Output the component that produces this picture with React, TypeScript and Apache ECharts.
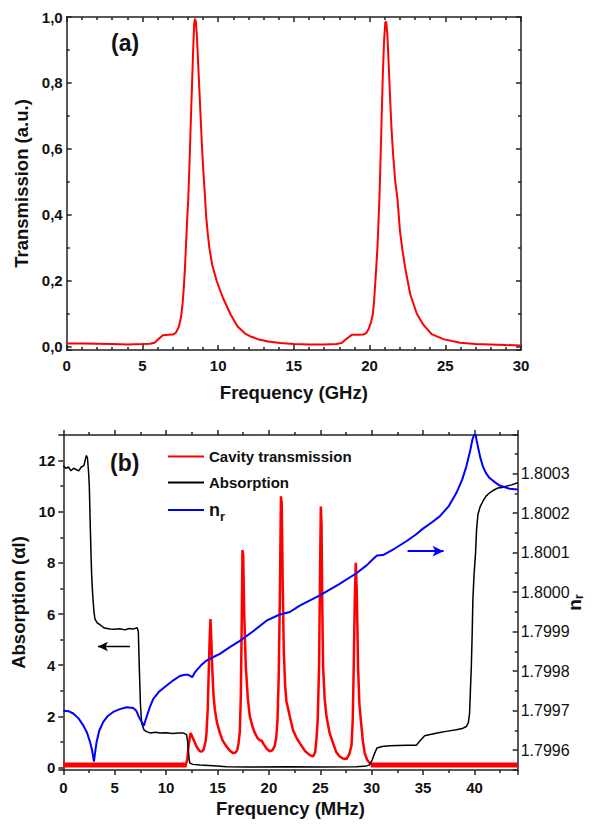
import React, { useEffect, useRef } from 'react';
import * as echarts from 'echarts';

const FONT = '"Liberation Sans", Arial, Helvetica, sans-serif';

// ---------- Panel (a): transmission vs frequency (GHz) ----------
const aFreq = [0, 1, 2, 3, 4, 5, 5.5, 5.8, 6.1, 6.35, 6.7, 7.0, 7.2, 7.4, 7.55, 7.65, 7.72, 7.8, 7.88, 7.95, 8.03, 8.12, 8.2, 8.28, 8.35, 8.42, 8.47, 8.53, 8.6, 8.68, 8.76, 8.85, 8.94, 9.04, 9.14, 9.2, 9.3, 9.42, 9.6, 9.9, 10.3, 10.8, 11.27, 11.78, 12.2, 12.7, 13.3, 14.1, 15.0, 16.0, 17.0, 17.8,
  18.16, 18.5, 18.82, 19.2, 19.59, 19.8, 19.95, 20.1, 20.22, 20.3, 20.4, 20.52, 20.6, 20.65, 20.72, 20.8, 20.88, 20.96, 21.04, 21.1, 21.17, 21.25, 21.35, 21.45, 21.56, 21.7, 21.84, 22.01, 22.18, 22.35, 22.68, 23.12, 23.56, 24.1, 24.87, 25.97, 27.0, 27.96, 29.0, 30];
const aTrans = [0.010, 0.010, 0.009, 0.008, 0.007, 0.008, 0.009, 0.012, 0.025, 0.035, 0.036, 0.037, 0.042, 0.06, 0.09, 0.13, 0.17, 0.23, 0.31, 0.38, 0.45, 0.57, 0.69, 0.80, 0.90, 0.98, 0.995, 0.985, 0.94, 0.86, 0.78, 0.69, 0.60, 0.52, 0.45, 0.40, 0.35, 0.30, 0.25, 0.20, 0.15, 0.10, 0.062, 0.040, 0.030, 0.022, 0.016, 0.011, 0.008, 0.007, 0.007, 0.008,
  0.011, 0.025, 0.036, 0.036, 0.037, 0.042, 0.055, 0.075, 0.10, 0.14, 0.21, 0.30, 0.39, 0.45, 0.56, 0.70, 0.83, 0.93, 0.985, 0.985, 0.95, 0.87, 0.76, 0.66, 0.58, 0.50, 0.45, 0.35, 0.29, 0.24, 0.16, 0.10, 0.066, 0.038, 0.023, 0.012, 0.008, 0.007, 0.005, 0.004];

// ---------- Panel (b): frequency (MHz) ----------
const cavFreq = [0, 11.9, 12.05, 12.2, 12.38, 12.6, 12.96, 13.28, 13.5, 13.67, 13.85, 13.93, 14.05, 14.16, 14.25, 14.32, 14.4, 14.48, 14.6, 14.74, 14.95, 15.23, 15.5, 15.88, 16.2, 16.52, 16.75, 16.91, 17.05, 17.17, 17.27, 17.35, 17.43, 17.5, 17.6, 17.75, 17.95, 18.14, 18.4, 18.63, 18.9, 19.15, 19.3, 19.5, 19.8, 20.09, 20.35, 20.57, 20.72, 20.83, 20.95, 21.06, 21.17, 21.25, 21.35, 21.45, 21.58, 21.7, 22.03, 22.35, 22.7, 23.0, 23.5, 23.97, 24.3, 24.5, 24.62, 24.75, 24.88, 24.97, 25.05, 25.12, 25.2, 25.27, 25.42, 25.6, 25.9, 26.24, 26.55, 26.89, 27.2, 27.54, 27.8, 28.03, 28.15, 28.25, 28.35, 28.45, 28.55, 28.67, 28.8, 29.0, 29.15, 29.32, 29.55, 29.8, 30.2, 44.2];
const cavVal = [0.1, 0.1, 0.3, 0.9, 1.35, 1.15, 0.82, 0.63, 0.62, 0.72, 1.05, 1.35, 2.3, 3.95, 5.2, 5.8, 5.0, 3.95, 2.9, 2.26, 1.75, 1.35, 1.05, 0.82, 0.65, 0.56, 0.58, 0.68, 0.95, 1.4, 2.8, 5.5, 8.5, 8.3, 6.0, 3.95, 2.7, 2.0, 1.6, 1.35, 1.15, 1.05, 1.05, 0.9, 0.72, 0.63, 0.68, 0.85, 1.2, 1.8, 3.5, 6.5, 10.6, 10.3, 7.0, 4.5, 3.2, 2.6, 2.0, 1.45, 1.15, 0.95, 0.65, 0.48, 0.43, 0.6, 1.08, 1.9, 3.95, 7.5, 10.2, 9.5, 6.0, 3.95, 2.7, 2.0, 1.35, 0.95, 0.6, 0.43, 0.35, 0.33, 0.5, 0.85, 1.8, 3.95, 6.5, 8.0, 6.8, 3.95, 2.5, 1.6, 1.0, 0.56, 0.3, 0.17, 0.12, 0.1];
// noisy flat floor of the transmission trace (drawn as a thick band)
const cavFloorFreq = [0, 12.0, 29.9, 44.2];
const cavFloorVal = [0.1, 0.1, 0.1, 0.1];

const absFreq = [0, 0.25, 0.5, 0.75, 1.0, 1.25, 1.5, 1.75, 2.0, 2.15, 2.25, 2.35, 2.45, 2.53, 2.62, 2.7, 2.76, 2.85, 2.98, 3.08, 3.3, 3.57, 4.0, 4.54, 5.0, 5.51, 6.0, 6.4, 6.8, 7.19, 7.3, 7.39, 7.5, 7.62, 7.84, 8.1, 8.43, 9.0, 9.4, 10.0, 10.6, 11.2, 11.66, 11.99, 12.1, 12.15, 12.25, 12.31, 12.6, 13.28, 14.58, 15.9, 18, 22, 25, 28.5, 29.5, 29.8, 30.05, 30.29, 30.51, 31.0, 31.75, 32.5, 33.5, 34.34, 34.66, 35.15, 35.8, 36.61, 37.4, 38.23, 38.8, 39.2, 39.4, 39.52, 39.6, 39.69, 39.77, 39.84, 39.95, 40.1, 40.2, 40.33, 40.55, 40.82, 41.1, 41.47, 41.9, 42.28, 42.7, 43.09, 43.6, 44.2];
const absVal = [11.8, 11.7, 11.75, 11.6, 11.7, 11.65, 11.6, 11.75, 11.8, 12.05, 12.2, 12.1, 11.6, 11.0, 9.5, 8.3, 7.5, 6.8, 6.1, 5.8, 5.65, 5.58, 5.45, 5.41, 5.4, 5.42, 5.38, 5.43, 5.41, 5.46, 5.3, 3.95, 2.5, 1.74, 1.47, 1.4, 1.35, 1.38, 1.35, 1.36, 1.33, 1.35, 1.35, 1.28, 1.0, 0.69, 0.3, 0.17, 0.12, 0.1, 0.07, 0.03, 0.02, 0.03, 0.02, 0.03, 0.06, 0.1, 0.3, 0.56, 0.76, 0.82, 0.85, 0.86, 0.87, 0.87, 1.02, 1.24, 1.3, 1.37, 1.42, 1.47, 1.52, 1.6, 1.75, 2.13, 3.0, 3.95, 5.2, 6.56, 7.5, 8.39, 9.3, 9.89, 10.2, 10.41, 10.6, 10.74, 10.85, 10.93, 10.95, 11.0, 11.05, 11.13];

const nrFreq = [0, 0.5, 0.97, 1.5, 1.94, 2.3, 2.6, 2.8, 2.98, 3.1, 3.24, 3.5, 3.89, 4.3, 4.86, 5.5, 6.16, 6.8, 7.1, 7.29, 7.55, 7.84, 7.95, 8.1, 8.4, 8.75, 9.3, 10.05, 10.7, 11.34, 11.8, 12.15, 12.35, 12.54, 12.75, 12.96, 13.4, 13.93, 14.6, 15.23, 16.2, 17.17, 18.5, 19.77, 21, 22.03, 23.0, 24.95, 26.8, 28.51, 29.5, 30.29, 30.51, 31.1, 32.2, 33.37, 34.3, 34.99, 35.8, 36.61, 37.5, 38.23, 38.8, 39.2, 39.55, 39.79, 39.95, 40.1, 40.2, 40.33, 40.55, 40.82, 41.1, 41.47, 42.0, 42.44, 43.41, 44.2];
const nrVal = [1.7997, 1.799699, 1.799693, 1.79968, 1.799663, 1.799645, 1.799621, 1.7996, 1.799571, 1.799595, 1.799621, 1.79965, 1.799672, 1.799686, 1.799697, 1.799704, 1.799709, 1.799707, 1.7997, 1.799688, 1.799675, 1.799662, 1.799672, 1.799684, 1.799708, 1.79973, 1.799748, 1.799764, 1.799777, 1.799788, 1.799791, 1.799791, 1.799788, 1.799785, 1.799795, 1.799802, 1.799815, 1.799827, 1.799836, 1.799844, 1.799861, 1.799877, 1.799902, 1.799928, 1.799943, 1.79995, 1.799966, 1.799992, 1.80002, 1.800048, 1.800068, 1.800088, 1.800093, 1.800094, 1.80011, 1.800129, 1.800146, 1.800161, 1.800176, 1.800192, 1.800218, 1.800251, 1.800285, 1.800318, 1.800355, 1.800386, 1.800398, 1.8004, 1.800385, 1.800369, 1.800342, 1.800318, 1.800302, 1.800289, 1.800278, 1.80027, 1.800262, 1.80026];

// annotation arrows (data coordinates)
const absArrow = [[6.48, 4.73], [3.37, 4.73]];
const nrArrow = [[33.49, 1.800104], [36.99, 1.800104]];

const zip = (xs: number[], ys: number[]) => xs.map((x, i) => [x, ys[i]]);

const AXIS_COLOR = '#222';
const lineStyle = { color: AXIS_COLOR, width: 1.5 };
const tickLabel = { fontFamily: FONT, fontWeight: 'bold' as const, fontSize: 15, color: '#111' };
const titleStyle = { fontFamily: FONT, fontWeight: 'bold' as const, fontSize: 18.5, color: '#111' };

export default function App() {
  const ref = useRef<HTMLDivElement>(null);
  useEffect(() => {
    if (!ref.current) return;
    const chart = echarts.init(ref.current, undefined, { renderer: 'svg' });

    const floorData: any[] = [
      [cavFloorFreq[0], cavFloorVal[0]], [cavFloorFreq[1], cavFloorVal[1]],
      [(cavFloorFreq[1] + cavFloorFreq[2]) / 2, '-'],
      [cavFloorFreq[2], cavFloorVal[2]], [cavFloorFreq[3], cavFloorVal[3]],
    ];

    const option: any = {
      animation: false,
      backgroundColor: '#fff',
      textStyle: { fontFamily: FONT },
      grid: [
        { left: 66.7, right: 72, top: 17, bottom: 477, containLabel: false, outerBoundsMode: 'none' },
        { left: 63.3, right: 75.3, top: 435, bottom: 57, containLabel: false, outerBoundsMode: 'none' },
      ],
      legend: {
        data: ['Cavity transmission', 'Absorption', 'n_r'],
        orient: 'vertical',
        left: 167,
        top: 449,
        padding: 0,
        itemWidth: 36,
        itemHeight: 14,
        itemGap: 11,
        selectedMode: false,
        itemStyle: { opacity: 0 },
        lineStyle: { width: 2 },
        formatter: (name: string) => (name === 'n_r' ? '{n|n}{r|r}' : name),
        textStyle: {
          fontFamily: FONT, fontWeight: 'bold', fontSize: 15, color: '#111',
          rich: {
            n: { fontFamily: FONT, fontWeight: 'bold', fontSize: 18, color: '#111' },
            r: { fontFamily: FONT, fontWeight: 'bold', fontSize: 13, color: '#111', padding: [12, 0, 0, 0] },
          },
        },
      },
      graphic: [
        { type: 'text', left: 111, top: 31, style: { text: '(a)', font: `bold 23px ${FONT}`, fill: '#111' } },
        { type: 'text', left: 110, top: 451, style: { text: '(b)', font: `bold 23px ${FONT}`, fill: '#111' } },
      ],
      xAxis: [
        {
          gridIndex: 0, type: 'value', position: 'bottom', min: 0, max: 30, interval: 5,
          axisLine: { show: true, onZero: false, lineStyle },
          axisTick: { show: true, inside: true, length: 5, lineStyle },
          minorTick: { show: true, splitNumber: 5, length: 3, lineStyle },
          splitLine: { show: false }, minorSplitLine: { show: false },
          axisLabel: { ...tickLabel, margin: 8 },
          name: 'Frequency (GHz)', nameLocation: 'middle', nameGap: 33, nameTextStyle: titleStyle,
        },
        {
          gridIndex: 0, type: 'value', position: 'top', min: 0, max: 30, interval: 5,
          axisLine: { show: true, onZero: false, lineStyle },
          axisTick: { show: true, inside: true, length: 5, lineStyle },
          minorTick: { show: true, splitNumber: 5, length: 3, lineStyle },
          splitLine: { show: false }, axisLabel: { show: false },
        },
        {
          gridIndex: 1, type: 'value', position: 'bottom', min: 0, max: 44.2, interval: 5,
          axisLine: { show: true, onZero: false, lineStyle },
          axisTick: { show: true, inside: false, length: 5, lineStyle },
          minorTick: { show: true, splitNumber: 2, length: 3, lineStyle },
          splitLine: { show: false }, minorSplitLine: { show: false },
          axisLabel: { ...tickLabel, margin: 10, showMaxLabel: false },
          name: 'Frequency (MHz)', nameLocation: 'middle', nameGap: 29, nameTextStyle: titleStyle,
        },
        {
          gridIndex: 1, type: 'value', position: 'top', min: 0, max: 44.2, interval: 5,
          axisLine: { show: true, onZero: false, lineStyle },
          axisTick: { show: true, inside: false, length: 5, lineStyle },
          minorTick: { show: true, splitNumber: 2, length: 3, lineStyle },
          splitLine: { show: false }, axisLabel: { show: false },
        },
      ],
      yAxis: [
        {
          gridIndex: 0, type: 'value', position: 'left', min: -0.01, max: 1.0, splitNumber: 5,
          axisLine: { show: true, onZero: false, lineStyle },
          axisTick: { show: true, inside: true, length: 5, lineStyle },
          minorTick: { show: true, splitNumber: 2, length: 3, lineStyle },
          splitLine: { show: false }, minorSplitLine: { show: false },
          axisLabel: { ...tickLabel, margin: 4, showMinLabel: false, formatter: (v: number) => v.toFixed(1).replace('.', ',') },
          name: 'Transmission (a.u.)', nameLocation: 'middle', nameGap: 36, nameRotate: 90, nameTextStyle: titleStyle,
        },
        {
          gridIndex: 0, type: 'value', position: 'right', min: -0.01, max: 1.0, splitNumber: 5,
          axisLine: { show: true, onZero: false, lineStyle },
          axisTick: { show: true, inside: true, length: 5, lineStyle },
          minorTick: { show: true, splitNumber: 2, length: 3, lineStyle },
          splitLine: { show: false }, axisLabel: { show: false },
        },
        {
          gridIndex: 1, type: 'value', position: 'left', min: -0.1, max: 13, splitNumber: 6,
          axisLine: { show: true, onZero: false, lineStyle },
          axisTick: { show: true, inside: false, length: 5, lineStyle },
          minorTick: { show: true, splitNumber: 2, length: 3, lineStyle },
          splitLine: { show: false }, minorSplitLine: { show: false },
          axisLabel: { ...tickLabel, margin: 8, showMinLabel: false, showMaxLabel: false, formatter: (v: number) => String(Math.round(v)) },
          name: 'Absorption (\u03b1l)', nameLocation: 'middle', nameGap: 33, nameRotate: 90, nameTextStyle: titleStyle,
        },
        {
          gridIndex: 1, type: 'value', position: 'right', min: 1.79955, max: 1.800398, splitNumber: 8,
          axisLine: { show: true, onZero: false, lineStyle },
          axisTick: { show: true, inside: true, length: 5, lineStyle },
          minorTick: { show: true, splitNumber: 2, length: 3, lineStyle },
          splitLine: { show: false }, minorSplitLine: { show: false },
          axisLabel: { fontFamily: FONT, fontSize: 16, color: '#111', margin: 3, showMinLabel: false, showMaxLabel: false, formatter: (v: number) => v.toFixed(4) },
          name: '{n|n}{r|r}', nameLocation: 'middle', nameGap: 46, nameRotate: 90, nameMoveOverlap: false,
          nameTextStyle: {
            ...titleStyle,
            rich: {
              n: { fontFamily: FONT, fontWeight: 'bold', fontSize: 19, color: '#111' },
              r: { fontFamily: FONT, fontWeight: 'bold', fontSize: 13, color: '#111', padding: [8, 0, 0, 0] },
            },
          },
        },
      ],
      series: [
        {
          name: 'Transmission', type: 'line', xAxisIndex: 0, yAxisIndex: 0,
          data: zip(aFreq, aTrans), showSymbol: false, symbol: 'none', smooth: false,
          lineStyle: { color: '#ff0000', width: 2 }, itemStyle: { color: '#ff0000' },
        },
        {
          name: 'Cavity transmission', type: 'line', xAxisIndex: 2, yAxisIndex: 2,
          data: zip(cavFreq, cavVal), showSymbol: false, symbol: 'none',
          lineStyle: { color: '#ff0000', width: 2.5 }, itemStyle: { color: '#ff0000' }, z: 2,
        },
        {
          name: 'Cavity transmission', type: 'line', xAxisIndex: 2, yAxisIndex: 2,
          data: floorData, showSymbol: false, symbol: 'none', connectNulls: false,
          lineStyle: { color: '#ff0000', width: 5, cap: 'butt' }, itemStyle: { color: '#ff0000' }, z: 2,
        },
        {
          name: 'Absorption', type: 'line', xAxisIndex: 2, yAxisIndex: 2,
          data: zip(absFreq, absVal), showSymbol: false, symbol: 'none',
          lineStyle: { color: '#000000', width: 1.5 }, itemStyle: { color: '#000000' }, z: 3,
          markLine: {
            silent: true, symbol: ['none', 'arrow'], symbolSize: [7, 10],
            label: { show: false },
            lineStyle: { color: '#000', width: 1.3, type: 'solid' },
            data: [[{ coord: absArrow[0] }, { coord: absArrow[1] }]],
          },
        },
        {
          name: 'n_r', type: 'line', xAxisIndex: 2, yAxisIndex: 3,
          data: zip(nrFreq, nrVal), showSymbol: false, symbol: 'none',
          lineStyle: { color: '#0000ff', width: 2 }, itemStyle: { color: '#0000ff' }, z: 4,
          markLine: {
            silent: true, symbol: ['none', 'arrow'], symbolSize: [8, 11],
            label: { show: false },
            lineStyle: { color: '#0000ff', width: 2, type: 'solid' },
            data: [[{ coord: nrArrow[0] }, { coord: nrArrow[1] }]],
          },
        },
      ],
    };
    chart.setOption(option);
    return () => chart.dispose();
  }, []);

  return <div ref={ref} style={{ position: 'fixed', left: 0, top: 0, width: 593, height: 827, background: '#fff' }} />;
}
